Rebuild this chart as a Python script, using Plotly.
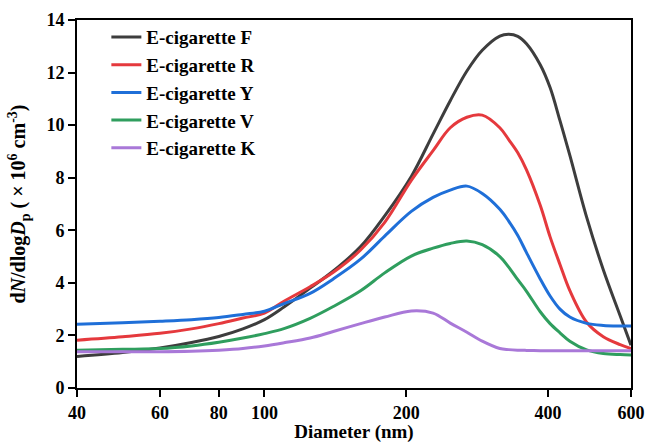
import plotly.graph_objects as go

diameter = [40, 50, 60, 70, 80, 90, 100, 110, 125, 140, 160, 180, 205, 228, 248, 269, 290, 316, 330, 345, 360, 385, 404, 424, 445, 483, 524, 569, 600]

ecig_F = [1.2, 1.35, 1.52, 1.73, 1.96, 2.25, 2.6, 3.08, 3.8, 4.45, 5.38, 6.55, 8.05, 9.66, 10.93, 12.06, 12.85, 13.39, 13.46, 13.38, 13.1, 12.3, 11.43, 10.17, 8.85, 6.5, 4.5, 2.75, 1.63]
ecig_R = [1.82, 1.95, 2.08, 2.25, 2.45, 2.66, 2.85, 3.3, 3.85, 4.4, 5.25, 6.3, 7.9, 9.03, 9.9, 10.3, 10.38, 9.9, 9.45, 8.95, 8.3, 6.95, 5.75, 4.7, 3.7, 2.5, 1.95, 1.65, 1.5]
ecig_Y = [2.43, 2.48, 2.54, 2.6, 2.68, 2.8, 2.92, 3.21, 3.6, 4.15, 4.9, 5.78, 6.72, 7.25, 7.53, 7.68, 7.4, 6.8, 6.35, 5.8, 5.15, 4.15, 3.5, 3.0, 2.7, 2.46, 2.38, 2.36, 2.36]
ecig_V = [1.44, 1.47, 1.5, 1.6, 1.74, 1.9, 2.07, 2.26, 2.65, 3.1, 3.7, 4.38, 5.02, 5.32, 5.5, 5.59, 5.45, 5.0, 4.6, 4.12, 3.68, 2.9, 2.45, 2.1, 1.78, 1.45, 1.31, 1.27, 1.26]
ecig_K = [1.38, 1.38, 1.38, 1.4, 1.44, 1.5, 1.6, 1.72, 1.9, 2.15, 2.45, 2.7, 2.93, 2.85, 2.47, 2.12, 1.78, 1.5, 1.46, 1.44, 1.43, 1.42, 1.42, 1.42, 1.42, 1.42, 1.42, 1.42, 1.42]

names = ["E-cigarette F", "E-cigarette R", "E-cigarette Y", "E-cigarette V", "E-cigarette K"]
series = [ecig_F, ecig_R, ecig_Y, ecig_V, ecig_K]
colors = ["#3d3d3d", "#e5393d", "#1f6fd8", "#2f9e5e", "#a978d8"]

x_ticks = [40, 60, 80, 100, 200, 400, 600]
y_ticks = [0, 2, 4, 6, 8, 10, 12, 14]

FONT = "Liberation Serif, Times New Roman, serif"

fig = go.Figure()
for n, s, c in zip(names, series, colors):
    fig.add_trace(go.Scatter(
        x=diameter, y=s, mode="lines", name="<b>%s</b>" % n,
        line=dict(color=c, width=3, shape="spline", smoothing=1.0),
    ))

fig.update_layout(
    width=647, height=443,
    margin=dict(l=77, r=16, t=20, b=55),
    paper_bgcolor="white", plot_bgcolor="white",
    font=dict(family=FONT, size=18, color="black"),
    showlegend=True,
    legend=dict(
        x=0.053, y=1.005, xanchor="left", yanchor="top",
        bgcolor="rgba(0,0,0,0)", borderwidth=0,
        font=dict(family=FONT, size=19, color="black"),
        tracegroupgap=0,
    ),
    xaxis=dict(
        type="log", range=[1.60206, 2.778151], automargin=False,
        tickvals=x_ticks, ticktext=["<b>%d</b>" % v for v in x_ticks],
        ticks="outside", ticklen=7, tickwidth=2, tickcolor="black",
        showline=True, linewidth=2, linecolor="black", mirror=True,
        showgrid=False, zeroline=False,
        tickfont=dict(family=FONT, size=18),
        title=dict(text="<b>Diameter (nm)</b>", font=dict(family=FONT, size=19), standoff=6),
    ),
    yaxis=dict(
        range=[0, 14], automargin=False,
        tickvals=y_ticks, ticktext=["<b>%d</b>" % v for v in y_ticks],
        ticks="outside", ticklen=7, tickwidth=2, tickcolor="black",
        showline=True, linewidth=2, linecolor="black", mirror=True,
        showgrid=False, zeroline=False,
        tickfont=dict(family=FONT, size=18),
        title=dict(text="<b>d<i>N</i>/dlog<i>D</i><sub>p</sub> ( × 10<sup>6</sup> cm<sup>-3</sup>)</b>",
                   font=dict(family=FONT, size=20), standoff=15),
    ),
)

fig.write_html("out.html")
